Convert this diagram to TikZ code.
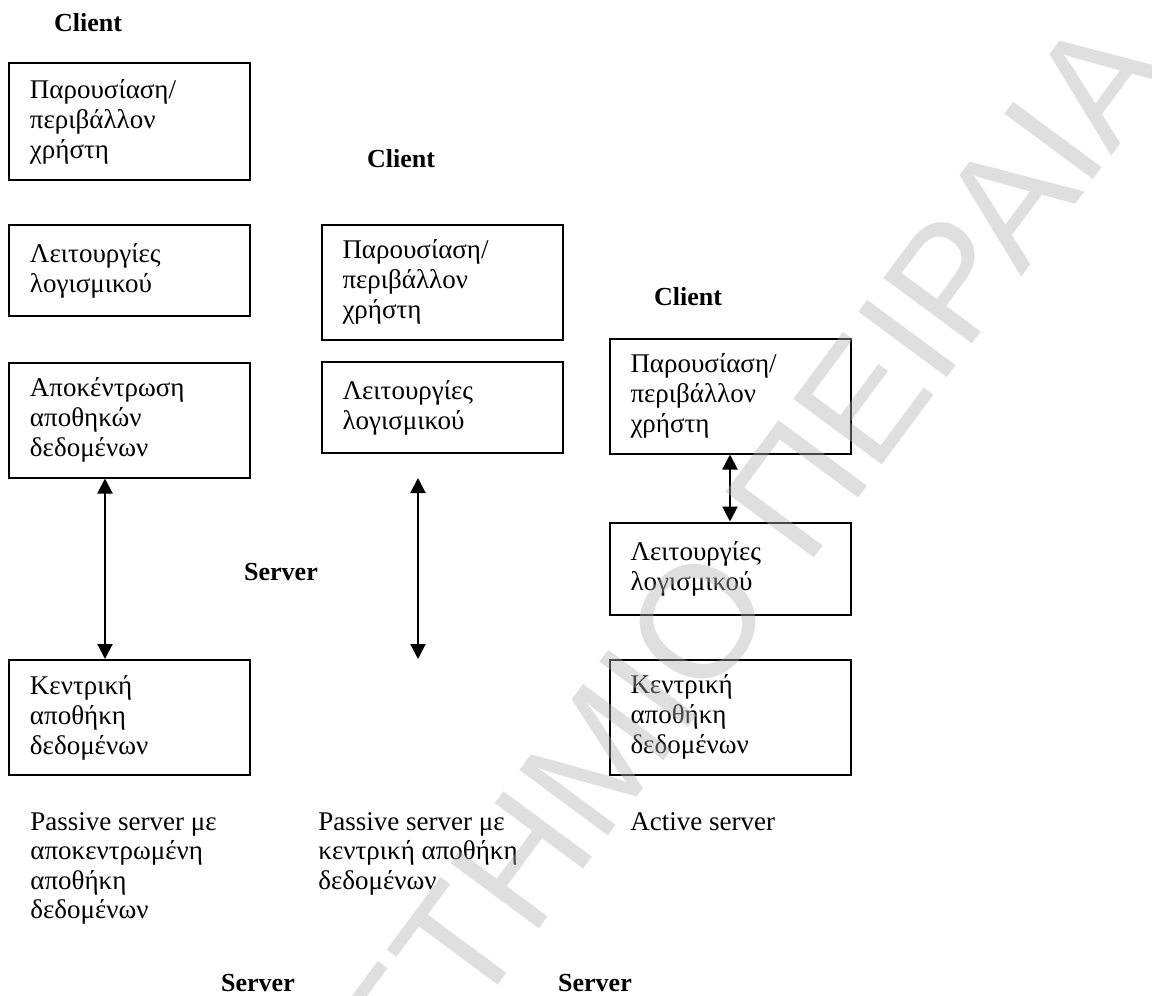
\documentclass[tikz,border=0pt]{standalone}
\usepackage{fontspec}
\setmainfont{Liberation Serif}
\newfontfamily\wmfont{Liberation Sans}
\usetikzlibrary{arrows.meta}
\definecolor{wmgray}{RGB}{176,176,176}
\begin{document}
\begin{tikzpicture}[x=0.5pt,y=-0.5pt,
  box/.style={draw, line width=1pt, text width=99.5pt, inner xsep=10.5pt, inner ysep=0pt,
              align=left, font=\fontsize{13.5}{15}\selectfont},
  tall/.style={box, minimum height=57.5pt},
  short/.style={box, minimum height=46pt},
  head/.style={font=\fontsize{13}{14.5}\selectfont\bfseries, inner sep=0pt, anchor=base},
  caption/.style={font=\fontsize{13.5}{14.75}\selectfont, inner sep=0pt, anchor=north west, align=left},
  biarrow/.style={line width=1pt, {Triangle[width=7.5pt,length=7.5pt]}-{Triangle[width=7.5pt,length=7.5pt]}},
  wm/.style={text=wmgray, text opacity=0.4, font=\wmfont\fontsize{80}{80}\selectfont, inner sep=0pt}]
\useasboundingbox (0,0) rectangle (1152,996);

% left column
\node[head] (cl1) at (88,31) {Client};
\node[tall,  minimum height=58.5pt] (L1) at (129.5,121.5) {Παρουσίαση/\\περιβάλλον\\χρήστη};
\node[short, minimum height=45.5pt] (L2) at (129.5,270.5) {Λειτουργίες\\λογισμικού};
\node[tall] (L3) at (129.5,420) {Αποκέντρωση\\αποθηκών\\δεδομένων};
\node[tall] (L4) at (129.5,717.5) {Κεντρική\\αποθήκη\\δεδομένων};
\draw[biarrow] ([xshift=48.5pt]L3.south west) -- ([xshift=48.5pt]L4.north west);
\node[caption] (cap1) at (30,812) {Passive server με\\αποκεντρωμένη\\αποθήκη\\δεδομένων};
\node[head] (sv1) at (258,991) {Server};

% middle column
\node[head] (cl2) at (401,167) {Client};
\node[tall] (M1) at (442,282) {Παρουσίαση/\\περιβάλλον\\χρήστη};
\node[short, minimum height=45.5pt] (M2) at (442,407.5) {Λειτουργίες\\λογισμικού};
\node[head] (sv2) at (281,580) {Server};
\coordinate (mtop) at (418,478);
\coordinate (mbot) at (418,659);
\draw[biarrow] (mtop) -- (mbot);
\node[caption] (cap2) at (318,812) {Passive server με\\κεντρική αποθήκη\\δεδομένων};
\node[head] (sv3) at (595,991) {Server};

% right column
\node[head] (cl3) at (688,305) {Client};
\node[tall] (R1) at (730,396) {Παρουσίαση/\\περιβάλλον\\χρήστη};
\node[short] (R2) at (730,568.5) {Λειτουργίες\\λογισμικού};
\node[tall] (R3) at (730,717) {Κεντρική\\αποθήκη\\δεδομένων};
\draw[biarrow] (R1.south) -- (R2.north);
\node[caption] (cap3) at (630,812) {Active server};

% watermark
\begin{scope}
\clip (0,0) rectangle (1152,996);
\node[wm, rotate=53.5, anchor=base east] (wmark) at (1175,70) {ΠΑΝΕΠΙΣΤΗΜΙΟ ΠΕΙΡΑΙΑ};
\end{scope}
\end{tikzpicture}
\end{document}
